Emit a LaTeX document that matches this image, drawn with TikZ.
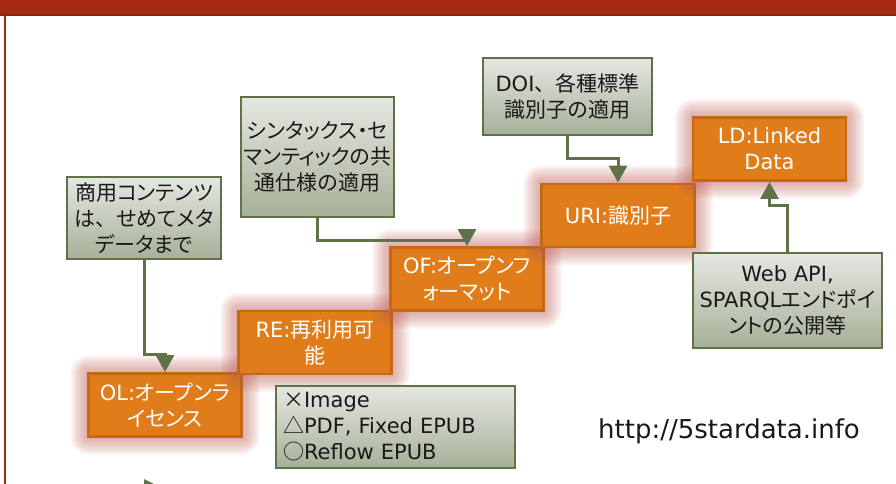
\documentclass[tikz,border=0pt]{standalone}
\usepackage{fontspec}
\setmainfont{DejaVu Sans}
\newfontfamily\jp[RawFeature=+palt]{Noto Sans CJK JP}
\newfontfamily\jpf{Noto Sans CJK JP}
\usetikzlibrary{arrows.meta}
\definecolor{redbar}{RGB}{164,45,17}
\definecolor{redline}{RGB}{140,36,14}
\definecolor{gborder}{RGB}{96,115,72}
\definecolor{gtop}{RGB}{229,231,226}
\definecolor{gbot}{RGB}{166,176,152}
\definecolor{ofill}{RGB}{224,125,26}
\definecolor{oborder}{RGB}{196,104,22}
\definecolor{glowc}{RGB}{190,95,85}
\definecolor{txt}{RGB}{25,25,25}
\newcommand{\glowat}[2]{%
  \foreach \gl in {2,4,...,18}{%
    \fill[glowc, fill opacity=0.075, rounded corners=\gl pt]
      ({#1-76.5-\gl},{#2-31.5-\gl}) rectangle ({#1+76.5+\gl},{#2+31.5+\gl});}}
\tikzset{
  gbox/.style={draw=gborder, line width=2.8pt, top color=gtop, bottom color=gbot,
    align=center, inner sep=0pt, text=txt, font=\fontsize{21}{26}\selectfont},
  obox/.style={draw=oborder, line width=2.8pt, fill=ofill, text=white, align=center,
    minimum width=153pt, minimum height=63pt, inner sep=0pt, font=\fontsize{21}{26}\selectfont},
  arr/.style={draw=gborder, line width=3pt, -{Triangle[width=18pt,length=17pt]}}
}
\begin{document}
\begin{tikzpicture}[x=1pt,y=-1pt]
\useasboundingbox (0,0) rectangle (896,484);
% frame
\fill[redbar] (0,0) rectangle (896,15);
\draw[redline, line width=2pt] (0,15.5) -- (896,15.5);
\draw[redbar, line width=2pt] (5,15) -- (5,484);
% orange steps with glow
\glowat{165}{405}
\node[obox] (OL) at (165,405) {OL:{\jp オープンラ}\\{\jp イセンス}};
\glowat{315}{342.5}
\node[obox] (RE) at (315,342.5) {RE:{\jp 再利用可}\\{\jp 能}};
\glowat{467}{279}
\node[obox] (OF) at (467,279) {OF:{\jp オープンフ}\\{\jp ォーマット}};
\glowat{618}{215.5}
\node[obox] (URI) at (618,215.5) {URI:{\jp 識別子}};
\glowat{769.5}{149}
\node[obox] (LD) at (769.5,149) {LD:Linked\\Data};
% gray boxes
\node[gbox, minimum width=154pt, minimum height=82pt] (g1) at (144,218)
  {{\jp 商用コンテンツ}\\{\jp は}{\jpf 、}{\jp せめてメタ}\\{\jp データまで}};
\node[gbox, minimum width=153pt, minimum height=120pt] (g2) at (317.5,157)
  {{\jp シンタックス・セ}\\{\jp マンティックの共}\\{\jp 通仕様の適用}};
\node[gbox, minimum width=169pt, minimum height=77pt] (g3) at (567.5,96.5)
  {DOI{\jpf 、}{\jp 各種標準}\\{\jp 識別子の適用}};
\node[gbox, minimum width=189pt, minimum height=95pt] (g4) at (787.5,300.5)
  {Web API,\\SPARQL{\jp エンドポイ}\\{\jp ントの公開等}};
\node[gbox, minimum width=239pt, minimum height=82pt, align=left, text width=225pt] (g5) at (395.5,427)
  {{\jp ×}Image\\{\jp △}PDF, Fixed EPUB\\{\jp ○}Reflow EPUB};
% url
\node[text=txt, font=\fontsize{26}{30}\selectfont] (url) at (729,431) {http://5stardata.info};
% connectors
\coordinate (k1) at (155,354);
\coordinate (k2) at (400,240);
\coordinate (k3) at (590,158);
\coordinate (k4) at (780,205);
\draw[arr] (g1.south) |- (k1) -| (OL.north);
\draw[arr] (g2.south) |- (k2) -| (OF.north);
\draw[arr] (g3.south) |- (k3) -| (URI.north);
\draw[arr] (g4.north) |- (k4) -| (LD.south);
% cut-off arrowhead at bottom edge
\fill[gborder] (144,479) -- (154,484) -- (144,484) -- cycle;
\end{tikzpicture}
\end{document}
